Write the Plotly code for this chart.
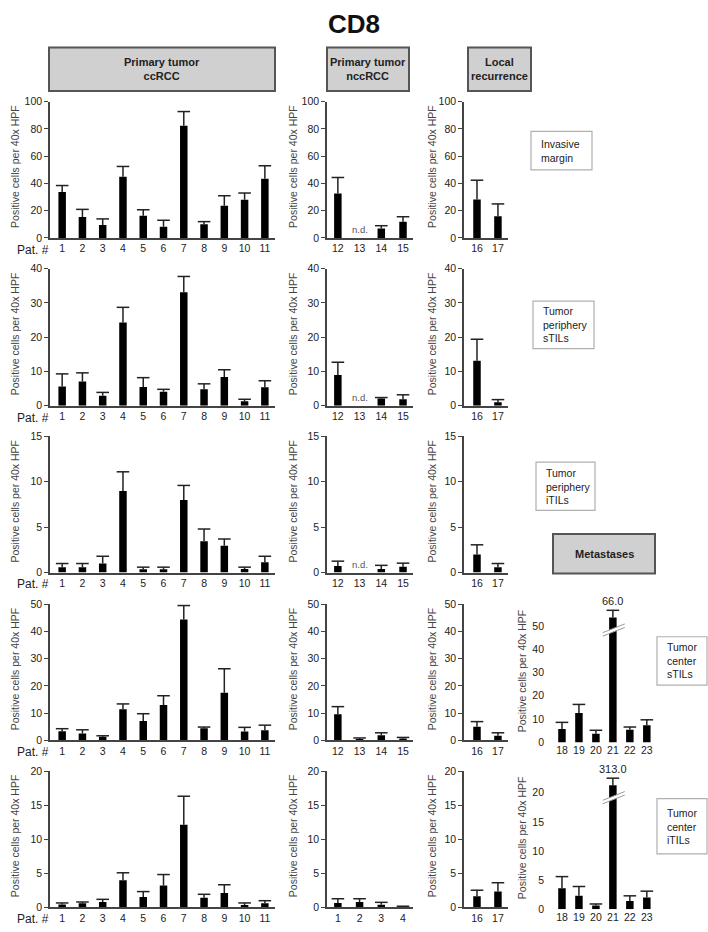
import plotly.graph_objects as go

W, H = 708, 932

# ---------------- data ----------------
pat_cc = [1, 2, 3, 4, 5, 6, 7, 8, 9, 10, 11]
pat_ncc = [12, 13, 14, 15]
pat_ncc_r5 = [1, 2, 3, 4]
pat_lr = [16, 17]
pat_met = [18, 19, 20, 21, 22, 23]

row_labels = ["Invasive<br>margin", "Tumor<br>periphery<br>sTILs",
              "Tumor<br>periphery<br>iTILs", "Tumor<br>center<br>sTILs",
              "Tumor<br>center<br>iTILs"]
y_max = [100, 40, 15, 50, 20]
y_dtick = [20, 10, 5, 10, 5]

# Invasive margin
im_cc_mean = [33.7, 15.4, 9.6, 45.0, 16.4, 8.2, 82.4, 10.0, 23.6, 28.0, 43.4]
im_cc_sd = [4.8, 5.6, 4.4, 7.5, 4.3, 4.8, 10.4, 2.0, 7.4, 5.0, 9.6]
im_ncc_mean = [32.6, None, 7.0, 12.0]
im_ncc_sd = [11.8, None, 2.0, 3.6]
im_lr_mean = [28.3, 16.0]
im_lr_sd = [14.1, 9.0]

# Tumor periphery sTILs
ps_cc_mean = [5.6, 7.1, 2.9, 24.3, 5.5, 4.1, 33.1, 4.8, 8.4, 1.3, 5.4]
ps_cc_sd = [3.7, 2.5, 1.0, 4.4, 2.7, 0.7, 4.6, 1.6, 2.1, 0.6, 1.9]
ps_ncc_mean = [9.0, None, 2.1, 1.9]
ps_ncc_sd = [3.7, None, 0.3, 1.3]
ps_lr_mean = [13.1, 1.0]
ps_lr_sd = [6.3, 0.8]

# Tumor periphery iTILs
pi_cc_mean = [0.58, 0.58, 1.0, 9.0, 0.36, 0.36, 8.0, 3.45, 2.95, 0.4, 1.15]
pi_cc_sd = [0.42, 0.42, 0.8, 2.1, 0.24, 0.24, 1.6, 1.35, 0.75, 0.2, 0.65]
pi_ncc_mean = [0.72, None, 0.4, 0.65]
pi_ncc_sd = [0.54, None, 0.4, 0.39]
pi_lr_mean = [2.0, 0.58]
pi_lr_sd = [1.06, 0.42]

# Tumor center sTILs
cs_cc_mean = [3.4, 2.5, 1.35, 11.4, 7.1, 13.0, 44.4, 4.5, 17.5, 3.3, 3.7]
cs_cc_sd = [0.9, 1.4, 0.35, 2.0, 2.7, 3.4, 5.1, 0.4, 8.8, 1.5, 1.9]
cs_ncc_mean = [9.6, 0.5, 1.9, 0.7]
cs_ncc_sd = [2.8, 0.4, 0.9, 0.4]
cs_lr_mean = [5.0, 1.7]
cs_lr_sd = [1.9, 1.1]
cs_met_mean = [5.7, 12.6, 3.7, 53.6, 5.4, 7.4]   # bar 21 drawn truncated
cs_met_sd = [2.9, 3.7, 1.5, 3.1, 1.2, 2.3]
cs_met_label = "66.0"

# Tumor center iTILs
ci_cc_mean = [0.4, 0.58, 0.77, 3.95, 1.5, 3.2, 12.1, 1.4, 2.1, 0.34, 0.58]
ci_cc_sd = [0.23, 0.19, 0.39, 1.11, 0.8, 1.6, 4.2, 0.5, 1.2, 0.29, 0.38]
ci_ncc_mean = [0.62, 0.77, 0.38, 0.1]
ci_ncc_sd = [0.63, 0.48, 0.34, 0.05]
ci_lr_mean = [1.6, 2.3]
ci_lr_sd = [0.9, 1.3]
ci_met_mean = [3.6, 2.3, 0.63, 21.3, 1.43, 2.0]  # bar 21 drawn truncated
ci_met_sd = [2.0, 1.6, 0.27, 1.2, 0.87, 1.1]
ci_met_label = "313.0"

broken_patient = 21

rows = [
    [("cc", pat_cc, im_cc_mean, im_cc_sd), ("ncc", pat_ncc, im_ncc_mean, im_ncc_sd),
     ("lr", pat_lr, im_lr_mean, im_lr_sd)],
    [("cc", pat_cc, ps_cc_mean, ps_cc_sd), ("ncc", pat_ncc, ps_ncc_mean, ps_ncc_sd),
     ("lr", pat_lr, ps_lr_mean, ps_lr_sd)],
    [("cc", pat_cc, pi_cc_mean, pi_cc_sd), ("ncc", pat_ncc, pi_ncc_mean, pi_ncc_sd),
     ("lr", pat_lr, pi_lr_mean, pi_lr_sd)],
    [("cc", pat_cc, cs_cc_mean, cs_cc_sd), ("ncc", pat_ncc, cs_ncc_mean, cs_ncc_sd),
     ("lr", pat_lr, cs_lr_mean, cs_lr_sd), ("met", pat_met, cs_met_mean, cs_met_sd)],
    [("cc", pat_cc, ci_cc_mean, ci_cc_sd), ("ncc", pat_ncc_r5, ci_ncc_mean, ci_ncc_sd),
     ("lr", pat_lr, ci_lr_mean, ci_lr_sd), ("met", pat_met, ci_met_mean, ci_met_sd)],
]
met_labels = {3: cs_met_label, 4: ci_met_label}

# ---------------- geometry / style ----------------
FONT = "Liberation Sans, Arial, sans-serif"
AX = "#444444"
TXT = "#222222"

cols = {
    "cc": dict(x0=50, x1=275, pad_l=0.6, pad_r=0.5, ytitle_x=15),
    "ncc": dict(x0=327, x1=413, pad_l=0.5, pad_r=0.46, ytitle_x=293),
    "lr": dict(x0=464, x1=508, pad_l=0.62, pad_r=0.48, ytitle_x=432),
    "met": dict(x0=545, x1=657, pad_l=1.0, pad_r=0.6, ytitle_x=522),
}
row_px = [(97, 235), (266, 405), (436, 574), (606, 744), (775, 913)]
BAR_PX = 7.5


def px(x):
    return x / W


def py(y):
    return 1 - y / H


fig = go.Figure()
layout = dict(
    width=W, height=H, margin=dict(l=0, r=0, t=0, b=0),
    paper_bgcolor="white", plot_bgcolor="white", showlegend=False,
    font=dict(family=FONT, size=10.5, color=TXT),
)
annotations = []
shapes = []

n = 0
for r, panels in enumerate(rows):
    top, bot = row_px[r]
    for kind, cats, vals, sds in panels:
        n += 1
        xa = "x" if n == 1 else f"x{n}"
        ya = "y" if n == 1 else f"y{n}"
        c = cols[kind]
        xr = [cats[0] - c["pad_l"], cats[-1] + c["pad_r"]]
        ppc = (c["x1"] - c["x0"]) / (xr[1] - xr[0])
        bw = BAR_PX / ppc
        xpos = list(cats)
        is_met = kind == "met"
        if is_met:
            t, b = top + 2, bot + 2
            yr = [0, y_max[r] * 138 / 118]
        else:
            t, b = top, bot
            yr = [0, y_max[r]]

        fig.add_trace(go.Bar(x=xpos, y=vals, width=bw, marker=dict(color="black", line=dict(width=0)),
                             xaxis=xa, yaxis=ya, hoverinfo="skip"))
        ex = [xv for xv, v in zip(xpos, vals) if v is not None]
        etop = [v + s for v, s in zip(vals, sds) if v is not None]
        eminus = [s for v, s in zip(vals, sds) if v is not None]
        fig.add_trace(go.Scatter(
            x=ex, y=etop, mode="markers", xaxis=xa, yaxis=ya, cliponaxis=False,
            marker=dict(symbol="line-ew", size=9, color=TXT, line=dict(width=1.5, color=TXT)),
            error_y=dict(type="data", symmetric=False, array=[0] * len(ex), arrayminus=eminus,
                         width=0, thickness=1.5, color=TXT),
            hoverinfo="skip"))

        layout["xaxis" if n == 1 else f"xaxis{n}"] = dict(
            domain=[px(c["x0"]), px(c["x1"])], range=xr, anchor=ya,
            showline=not is_met, linecolor=AX, linewidth=1.5, ticks="",
            tickmode="array", tickvals=xpos, ticktext=[str(v) for v in cats],
            tickfont=dict(size=10.5, color=TXT), showgrid=False, zeroline=False,
            fixedrange=True)
        layout["yaxis" if n == 1 else f"yaxis{n}"] = dict(
            domain=[py(b), py(t)], range=yr, anchor=xa,
            showline=not is_met, linecolor=AX, linewidth=1.5,
            ticks="" if is_met else "outside", ticklen=4, tickwidth=1.2, tickcolor=AX,
            tick0=0, dtick=y_dtick[r], tickfont=dict(size=10.5, color=TXT),
            showgrid=False, zeroline=False, fixedrange=True)

        # y-axis title
        annotations.append(dict(
            text="Positive cells per 40x HPF", textangle=-90, xref="paper", yref="paper",
            x=px(c["ytitle_x"]), y=py((t + b) / 2 - 3), xanchor="center", yanchor="middle",
            showarrow=False, font=dict(size=10.5, color="#444444")))

        # n.d. markers
        for xv, v in zip(xpos, vals):
            if v is None:
                annotations.append(dict(text="n.d.", xref=xa, yref=ya, x=xv, y=0,
                                        yanchor="bottom", yshift=1, showarrow=False,
                                        font=dict(size=9.5, color="#555555")))

        if is_met:
            k = cats.index(broken_patient)
            bx = xpos[k]
            ymx = y_max[r]
            annotations.append(dict(text=met_labels[r], xref=xa, yref=ya, x=bx,
                                    y=vals[k] + sds[k], yanchor="bottom", yshift=1,
                                    showarrow=False, font=dict(size=11, color=TXT)))
            b0 = vals[k] - 0.16 * ymx
            dy = 0.075 * ymx
            gap = 0.03 * ymx
            shapes.append(dict(type="line", xref=xa, yref=ya, x0=bx - 0.6, x1=bx + 0.7,
                               y0=b0 + gap / 2, y1=b0 + dy + gap / 2,
                               line=dict(color="white", width=3)))
            for off in (0, gap):
                shapes.append(dict(type="line", xref=xa, yref=ya, x0=bx - 0.6, x1=bx + 0.7,
                                   y0=b0 + off, y1=b0 + dy + off,
                                   line=dict(color="#9a9a9a", width=1)))

    # Pat. # label
    annotations.append(dict(text="Pat. #", xref="paper", yref="paper", x=px(33), y=py(bot + 12),
                            xanchor="center", yanchor="middle", showarrow=False,
                            font=dict(size=12, color=TXT)))

# header boxes
headers = [
    ("<b>Primary tumor<br>ccRCC</b>", 49, 275, 42, 86),
    ("<b>Primary tumor<br>nccRCC</b>", 327, 409, 42, 86),
    ("<b>Local<br>recurrence</b>", 468, 531, 42, 86),
    ("<b>Metastases</b>", 553, 655, 535, 575),
]
for text, x0, x1, y0, y1 in headers:
    shapes.append(dict(type="rect", xref="paper", yref="paper", x0=px(x0), x1=px(x1),
                       y0=py(y1), y1=py(y0), fillcolor="#d0d0d0",
                       line=dict(color="#555555", width=2), layer="above"))
    annotations.append(dict(text=text, xref="paper", yref="paper", x=px((x0 + x1) / 2),
                            y=py((y0 + y1) / 2), xanchor="center", yanchor="middle",
                            showarrow=False, font=dict(size=11, color=TXT)))

# row label boxes
label_boxes = [(531, 592, 127, 166), (533, 594, 299, 347), (536, 595, 462, 511),
               (657, 707, 639, 688), (657, 707, 803, 859)]
for text, (x0, x1, y0, y1) in zip(row_labels, label_boxes):
    shapes.append(dict(type="rect", xref="paper", yref="paper", x0=px(x0), x1=px(x1),
                       y0=py(y1), y1=py(y0), fillcolor="white",
                       line=dict(color="#b0b0b0", width=1.2)))
    annotations.append(dict(text=text, xref="paper", yref="paper", x=px(x0 + 8),
                            y=py((y0 + y1) / 2), xanchor="left", yanchor="middle", align="left",
                            showarrow=False, font=dict(size=10.5, color=TXT)))

# title
annotations.append(dict(text="<b>CD8</b>", xref="paper", yref="paper", x=0.5, y=py(18),
                        xanchor="center", yanchor="middle", showarrow=False,
                        font=dict(size=26, color="#111111",
                                  family="Liberation Sans Narrow, Arial Narrow, Liberation Sans, Arial")))

layout["annotations"] = annotations
layout["shapes"] = shapes
fig.update_layout(**layout)
fig.write_html("out.html", config={"displayModeBar": False},
               post_script="document.body.style.margin='0';document.body.style.padding='0';")
